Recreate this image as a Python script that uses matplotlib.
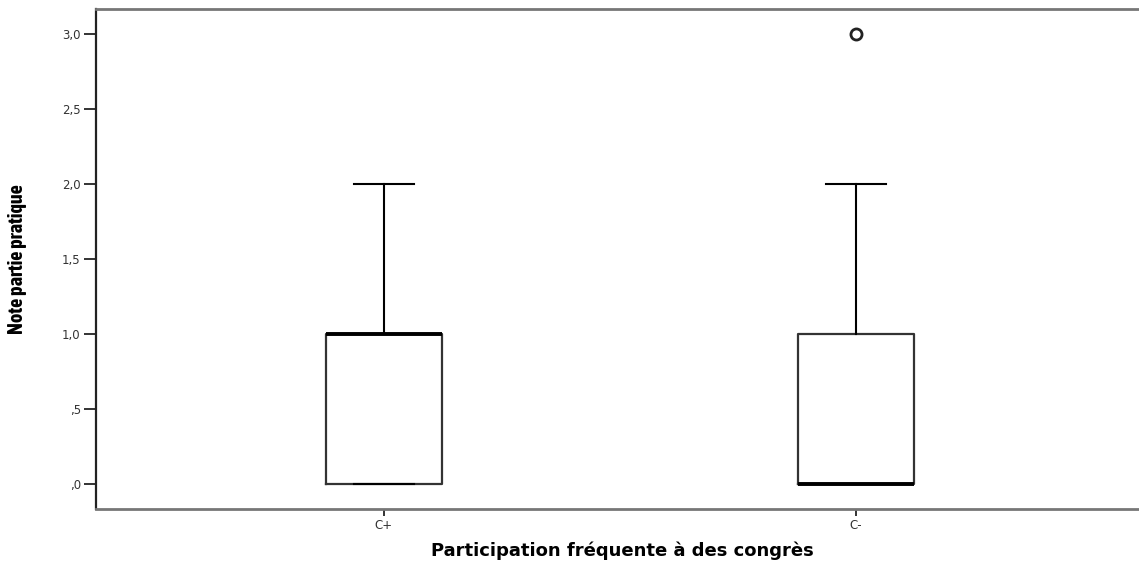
import matplotlib
matplotlib.use("Agg")
import matplotlib.pyplot as plt
from matplotlib import font_manager

# Données
groupes = ["C+", "C-"]
q1 = [0.0, 0.0]
medianes = [1.0, 0.0]
q3 = [1.0, 1.0]
moust_bas = [0.0, 0.0]
moust_haut = [2.0, 2.0]
extremes = [[], [3.0]]

yticks = [0.0, 0.5, 1.0, 1.5, 2.0, 2.5, 3.0]
ytick_labels = [",0", ",5", "1,0", "1,5", "2,0", "2,5", "3,0"]

titre_x = "Participation fréquente à des congrès"
titre_y = "Note partie pratique"

# police étroite et grasse pour le titre vertical, si disponible
grasses = sorted({f.name for f in font_manager.fontManager.ttflist
                  if ("Narrow" in f.name or "Condensed" in f.name or f.stretch == "condensed")
                  and (f.weight in ("bold", 700) or str(f.weight) == "700")})
if grasses:
    police_y, taille_y = grasses[0], 14.5
else:
    police_y, taille_y = "Liberation Sans", 10.5

fig = plt.figure(figsize=(11.39, 5.62), dpi=100)
ax = fig.add_axes([96 / 1139, 53 / 562, 1043 / 1139, 500 / 562])

stats = []
for i, g in enumerate(groupes):
    stats.append({
        "label": g,
        "q1": q1[i],
        "med": medianes[i],
        "q3": q3[i],
        "whislo": moust_bas[i],
        "whishi": moust_haut[i],
        "fliers": extremes[i],
    })

ax.bxp(stats, positions=[0, 1], widths=0.247, showfliers=True,
       boxprops=dict(color="#333333", linewidth=1.6),
       medianprops=dict(color="black", linewidth=2.8),
       whiskerprops=dict(color="black", linewidth=1.5),
       capprops=dict(color="black", linewidth=1.5),
       capwidths=0.127,
       flierprops=dict(marker="o", markersize=8, markerfacecolor="none",
                       markeredgecolor="#222222", markeredgewidth=2))

ax.set_xlim(-0.61, 1.6)
ax.set_ylim(-0.167, 3.167)
ax.set_yticks(yticks)
ax.set_yticklabels(ytick_labels)
ax.set_xticks([0, 1])
ax.set_xticklabels(groupes)

ax.tick_params(axis="y", length=9, width=1.4, color="#333333",
               labelsize=8.5, labelcolor="#333333", pad=2)
ax.tick_params(axis="x", length=5, width=1.4, color="#333333",
               labelsize=8.5, labelcolor="#333333", pad=2)

ax.spines["right"].set_visible(False)
ax.spines["left"].set_color("#222222")
ax.spines["left"].set_linewidth(1.6)
for s in ("top", "bottom"):
    ax.spines[s].set_color("#777777")
    ax.spines[s].set_linewidth(2)

ax.set_xlabel(titre_x, fontsize=13, fontweight="bold")
ax.xaxis.set_label_coords(0.505, -0.064)
ax.set_ylabel(titre_y, fontsize=taille_y, fontweight="bold",
              family=[police_y, "DejaVu Sans"])
ax.yaxis.set_label_coords(-0.066, 0.5)

fig.savefig("out.png", dpi=100)
